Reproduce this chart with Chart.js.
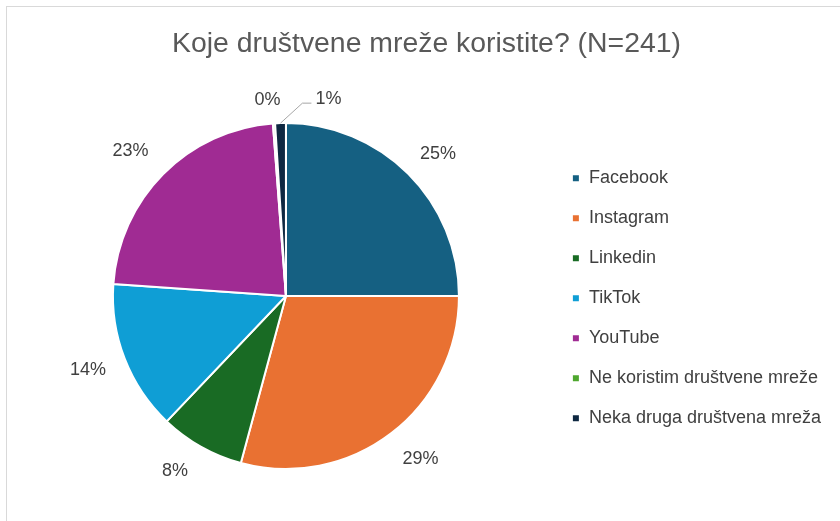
<!DOCTYPE html>
<html>
<head>
<meta charset="utf-8">
<script src="https://cdn.jsdelivr.net/npm/chart.js@4.4.0/dist/chart.umd.min.js"></script>
<style>
  html, body { margin: 0; padding: 0; background: #fff; }
  .frame { position: absolute; left: 6px; top: 6px; width: 900px; height: 600px; border: 1px solid #d9d9d9; }
  canvas { position: absolute; left: 0; top: 0; }
</style>
</head>
<body>
<div class="frame"></div>
<canvas id="pieChart" width="840" height="521"></canvas>
<script>
// Podaci
const chartTitle = 'Koje društvene mreže koristite? (N=241)';
const categories = ['Facebook', 'Instagram', 'Linkedin', 'TikTok', 'YouTube', 'Ne koristim društvene mreže', 'Neka druga društvena mreža'];
const shares = [25.0, 29.2, 7.9, 14.0, 22.7, 0.2, 1.0];
const sliceColors = ['#156082', '#E97132', '#196B24', '#0F9ED5', '#A02B93', '#4EA72E', '#0E2841'];

const FONT = "'Liberation Sans', Arial, sans-serif";

// Postotci oko pite
const percentLabels = {
    id: 'percentLabels',
    afterDatasetsDraw(chart, args, opts) {
        const ctx = chart.ctx;
        const meta = chart.getDatasetMeta(0);
        const data = chart.data.datasets[0].data;
        const total = data.reduce((a, b) => a + b, 0);
        ctx.save();
        ctx.font = opts.font;
        ctx.fillStyle = opts.color;
        ctx.textAlign = 'center';
        ctx.textBaseline = 'middle';
        meta.data.forEach((arc, i) => {
            const p = arc.getProps(['x', 'y', 'startAngle', 'endAngle', 'outerRadius'], true);
            const mid = (p.startAngle + p.endAngle) / 2;
            const r = p.outerRadius + opts.offset;
            let lx = p.x + Math.cos(mid) * r;
            let ly = p.y + Math.sin(mid) * r;
            const n = opts.nudge[i];
            if (n) {
                lx += n[0];
                ly += n[1];
                if (n[2]) {
                    // linija do malog isječka
                    const ex = p.x + Math.cos(mid) * p.outerRadius;
                    const ey = p.y + Math.sin(mid) * p.outerRadius;
                    ctx.save();
                    ctx.strokeStyle = '#a6a6a6';
                    ctx.lineWidth = 1;
                    ctx.beginPath();
                    ctx.moveTo(ex, ey);
                    ctx.lineTo(lx - 26, ly + 4);
                    ctx.lineTo(lx - 17, ly + 4);
                    ctx.stroke();
                    ctx.restore();
                }
            }
            ctx.fillText(Math.round(data[i] / total * 100) + '%', lx, ly);
        });
        ctx.restore();
    }
};

const pieCtx = document.getElementById('pieChart').getContext('2d');
const pieChart = new Chart(pieCtx, {
    type: 'pie',
    data: {
        labels: categories,
        datasets: [{
            data: shares,
            backgroundColor: sliceColors,
            borderColor: '#ffffff',
            borderWidth: 2
        }]
    },
    options: {
        responsive: false,
        animation: false,
        radius: 173,
        layout: {
            padding: { left: 22, right: 9, top: 0, bottom: 28 }
        },
        plugins: {
            title: {
                display: true,
                text: chartTitle,
                color: '#595959',
                font: { family: FONT, size: 28.4, weight: 'normal' },
                padding: { top: 27, bottom: 38 }
            },
            legend: {
                position: 'right',
                title: {
                    display: true,
                    text: ' ',
                    font: { family: FONT, size: 18 },
                    padding: { top: 41, bottom: 41 }
                },
                labels: {
                    boxWidth: 8,
                    boxHeight: 8,
                    padding: 22,
                    color: '#404040',
                    font: { family: FONT, size: 18 }
                }
            },
            tooltip: { enabled: false },
            percentLabels: {
                font: '18px ' + FONT,
                color: '#404040',
                offset: 35,
                nudge: {
                    0: [5, 5, false],
                    1: [8, -2, false],
                    2: [-9, -6, false],
                    3: [-4, -1, false],
                    4: [-8, 2, false],
                    5: [-4, 11, false],
                    6: [49, 11, true]
                }
            }
        }
    },
    plugins: [percentLabels]
});
</script>
</body>
</html>
